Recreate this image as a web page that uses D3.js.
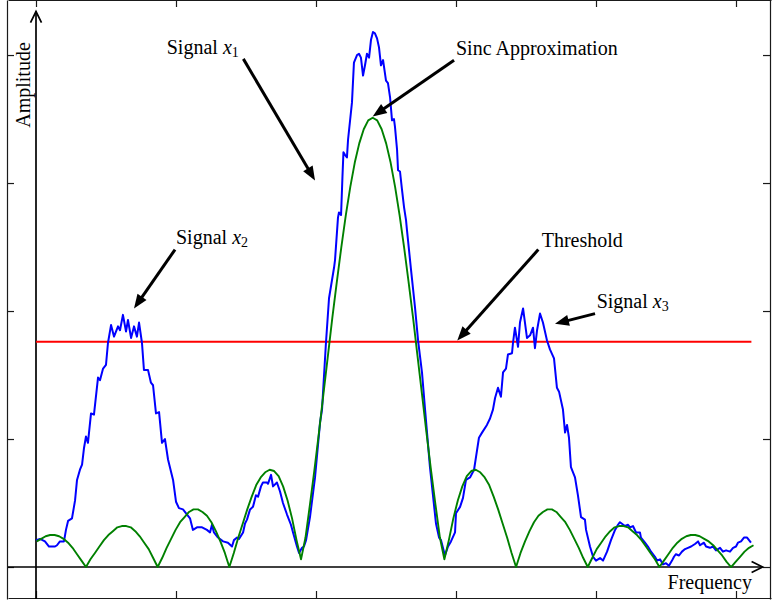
<!DOCTYPE html>
<html>
<head>
<meta charset="utf-8">
<script src="https://cdn.jsdelivr.net/npm/d3@7"></script>
<style>
  html, body { margin: 0; padding: 0; background: #fff; }
  svg { display: block; }
  text { font-family: "Liberation Serif", "Times New Roman", Times, serif; fill: #000; }
</style>
</head>
<body>
<svg id="chart" width="773" height="600"></svg>
<script>
// Measured spectrum: [frequency bin, amplitude]
const spectrum = [
  [0,0.21],[2.9,0.22],[6.4,0.20],[9.3,0.16],[11.4,0.16],[13.6,0.16],[15,0.17],[17.1,0.20],[20,0.20],[21.4,0.29],
  [22.9,0.36],[25.7,0.38],[27.9,0.52],[29.3,0.68],[31.4,0.76],[32.9,0.80],[34.3,0.93],[35.7,1.02],[37.1,0.97],[39.3,1.20],
  [41.4,1.19],[44.3,1.48],[45.7,1.46],[47.9,1.55],[50,1.58],[51.4,1.75],[53.6,1.89],[55.7,1.80],[58.6,1.88],[60,1.85],
  [62.1,1.97],[64.3,1.84],[65.7,1.93],[67.9,1.79],[70,1.88],[72.1,1.80],[73.6,1.91],[75.7,1.75],[77.1,1.54],[80,1.54],
  [82.1,1.44],[83.6,1.42],[85.7,1.20],[87.9,1.21],[90,0.97],[92.1,1.00],[94.3,0.84],[97.9,0.68],[100,0.51],[102.1,0.46],
  [105,0.45],[107.9,0.41],[110,0.38],[112.1,0.29],[115,0.31],[118.6,0.31],[122.1,0.29],[124.3,0.27],[125.7,0.33],[127.1,0.27],
  [130,0.23],[133.6,0.20],[137.1,0.19],[140,0.16],[141.4,0.21],[143.6,0.23],[145,0.22],[147.9,0.27],[149.3,0.34],[150.7,0.37],
  [152.9,0.45],[155,0.47],[157.1,0.56],[158.6,0.55],[160.7,0.63],[162.1,0.66],[165,0.66],[165.7,0.65],[167.9,0.72],[169.3,0.63],
  [172.1,0.66],[174.3,0.59],[176.4,0.50],[179.3,0.41],[182.1,0.33],[183.6,0.27],[186.4,0.16],[187.9,0.11],[190,0.15],[191.4,0.16],
  [192.9,0.21],[195.7,0.39],[199.3,0.70],[202.9,1.13],[204.3,1.23],[207.1,1.75],[209.3,2.10],[212.9,2.34],[213.6,2.40],[215.7,2.73],
  [216.4,2.77],[217.9,2.75],[218.9,3.05],[219.6,3.24],[220.7,3.22],[222.1,3.20],[222.9,3.34],[225.7,3.63],[227.1,3.94],[229.3,4.00],
  [230.7,4.01],[232.1,3.98],[233.6,3.84],[235,3.92],[236.4,4.01],[237.9,3.98],[239.3,4.12],[240.7,4.18],[242.1,4.17],[243.6,4.13],
  [245,4.06],[246.4,3.92],[247.9,3.96],[250,3.80],[251.4,3.78],[252.9,3.67],[254.3,3.49],[255.7,3.50],[256.4,3.44],[257.9,3.26],
  [258.6,3.10],[260,3.09],[261.4,2.95],[262.9,2.81],[264.3,2.71],[265,2.63],[267.9,2.32],[270.7,2.03],[272.9,1.77],[275.7,1.52],
  [277.9,1.23],[281.4,0.78],[285.7,0.34],[287.9,0.23],[289.3,0.21],[291.4,0.12],[292.1,0.09],[294.3,0.16],[296.4,0.20],[299.3,0.27],
  [300,0.42],[302.9,0.47],[305,0.54],[307.1,0.68],[310,0.70],[312.9,0.76],[314.3,0.86],[316.4,1.01],[318.6,1.05],[322.1,1.11],
  [324.3,1.16],[326.4,1.23],[327.9,1.32],[330,1.40],[332.1,1.33],[333.6,1.52],[335.7,1.55],[337.1,1.66],[340,1.67],[340.7,1.75],
  [342.1,1.87],[344.3,1.72],[345.7,1.91],[347.9,2.02],[350.7,1.79],[352.9,1.81],[355,1.87],[356.4,1.71],[357.9,1.85],[360,1.98],
  [362.1,1.91],[365,1.77],[367.1,1.70],[370,1.63],[372.1,1.40],[373.6,1.37],[376.4,1.23],[377.9,1.05],[379.3,1.11],[380.7,1.01],
  [382.1,0.78],[385,0.70],[387.1,0.56],[389.3,0.39],[392.1,0.37],[392.9,0.29],[395.7,0.16],[397.9,0.08],[400,0.05],[402.9,0.07],
  [405,0.05],[407.9,0.12],[410.7,0.21],[413.6,0.29],[415.7,0.33],[417.1,0.35],[420.7,0.32],[422.9,0.33],[424.3,0.31],[426.4,0.32],
  [428.6,0.27],[431.4,0.27],[432.1,0.23],[435,0.19],[437.1,0.16],[439.3,0.12],[442.1,0.08],[443.6,0.05],[445.7,0.06],[447.9,0.02],
  [450,0.03],[452.1,0.01],[454.3,0.05],[455.7,0.08],[457.1,0.10],[459.3,0.09],[461.4,0.12],[463.6,0.14],[465.7,0.15],[467.9,0.16],
  [470.7,0.18],[472.9,0.20],[474.3,0.17],[477.1,0.19],[478.6,0.16],[481.4,0.15],[483.6,0.16],[485.7,0.13],[488.6,0.15],[490.7,0.12],
  [492.9,0.13],[495.7,0.12],[497.9,0.15],[500,0.16],[501.4,0.19],[503.6,0.20],[505.7,0.23],[507.9,0.23],[509.3,0.21],[510.7,0.19]
];

// Sinc approximation, sampled on a uniform frequency grid
const sincStart = 0.5;
const sincStep = 3.2;
const sincAmp = [
  0.20,0.22,0.24,0.25,0.25,0.24,0.22,0.19,0.15,0.10,0.05,
  0,0.06,0.11,0.16,0.21,0.25,0.28,0.31,0.32,0.32,0.31,0.28,0.24,0.19,0.14,0.07,
  0,0.07,0.15,0.22,0.29,0.35,0.39,0.43,0.45,0.45,0.43,0.40,0.35,0.28,0.20,0.11,
  0,0.11,0.23,0.34,0.45,0.55,0.64,0.70,0.74,0.76,0.75,0.71,0.63,0.52,0.38,0.21,
  0.06,0.23,0.49,0.76,1.05,1.35,1.65,1.95,2.23,2.50,2.75,2.97,3.16,3.31,3.42,3.49,
  3.51,
  3.49,3.42,3.31,3.16,2.97,2.75,2.50,2.23,1.95,1.65,1.35,1.05,0.76,0.49,0.23,0.06,
  0.21,0.38,0.52,0.63,0.71,0.75,0.76,0.74,0.70,0.64,0.55,0.45,0.34,0.23,0.11,
  0,0.11,0.20,0.28,0.35,0.40,0.43,0.45,0.45,0.43,0.39,0.35,0.29,0.22,0.15,0.07,
  0,0.07,0.14,0.19,0.24,0.28,0.31,0.32,0.32,0.31,0.28,0.25,0.21,0.16,0.11,0.06,
  0,0.05,0.10,0.15,0.19,0.22,0.24,0.25,0.25,0.24,0.22,0.20,0.17,0.13,0.09,0.04,
  0,0.04,0.08,0.12,0.15,0.17
];

// Detection threshold
const threshold = 1.76;
const thresholdRange = [0, 511];

// Box tick marks (unlabelled)
const freqTicks = [0, 100, 200, 300, 400, 500];
const ampTicks = [0, 1, 2, 3, 4];

// Axis extents
const freqDomain = [-20, 525];
const ampDomain = [-0.25, 4.43];
const freqArrowEnd = 519;
const ampArrowEnd = 4.34;

// Callouts: text anchor, arrow tail and arrow tip, in data units
const callouts = [
  { text: "Signal ", sym: "x", sub: "1", at: [93.4, 4.01], tail: [148.1, 3.97], tip: [199.3, 3.02] },
  { text: "Sinc Approximation", at: [300, 4.0], tail: [298.6, 3.96], tip: [240.5, 3.52] },
  { text: "Signal ", sym: "x", sub: "2", at: [100, 2.52], tail: [99.3, 2.48], tip: [70, 2.02] },
  { text: "Threshold", at: [361.2, 2.50], tail: [358.8, 2.48], tip: [300.9, 1.77] },
  { text: "Signal ", sym: "x", sub: "3", at: [400.5, 2.02], tail: [399.3, 1.98], tip: [370.7, 1.90] }
];

const svg = d3.select("#chart");

const x = d3.scaleLinear().domain(freqDomain).range([8, 771]);
const y = d3.scaleLinear().domain(ampDomain).range([599, 0]);

// Outer box with inward ticks on all four sides
const boxColor = "#1a1a1a";
function styleBox(g) {
  g.selectAll("path, line").attr("stroke", boxColor).attr("stroke-width", 1.2);
  g.selectAll("text").remove();
}
svg.append("g").attr("transform", "translate(0,598)")
  .call(d3.axisBottom(x).tickValues(freqTicks).tickSizeInner(-7).tickSizeOuter(0).tickFormat(""))
  .call(styleBox);
svg.append("g").attr("transform", "translate(0,0)")
  .call(d3.axisTop(x).tickValues(freqTicks).tickSizeInner(-7).tickSizeOuter(0).tickFormat(""))
  .call(styleBox);
svg.append("g").attr("transform", "translate(7,0)")
  .call(d3.axisLeft(y).tickValues(ampTicks).tickSizeInner(-7).tickSizeOuter(0).tickFormat(""))
  .call(styleBox);
svg.append("g").attr("transform", "translate(770,0)")
  .call(d3.axisRight(y).tickValues(ampTicks).tickSizeInner(-7).tickSizeOuter(0).tickFormat(""))
  .call(styleBox);

// Coordinate axes with open arrowheads
const axesG = svg.append("g").attr("stroke", "#000").attr("stroke-width", 1.7).attr("fill", "none");
axesG.append("line")
  .attr("x1", x(0)).attr("x2", x(0))
  .attr("y1", y(ampDomain[0])).attr("y2", y(ampArrowEnd));
axesG.append("path")
  .attr("d", `M${x(0) - 5.5},${y(ampArrowEnd) + 11} L${x(0)},${y(ampArrowEnd)} L${x(0) + 5.5},${y(ampArrowEnd) + 11}`);
axesG.append("line")
  .attr("x1", x(freqDomain[0])).attr("x2", x(freqArrowEnd))
  .attr("y1", y(0)).attr("y2", y(0));
axesG.append("path")
  .attr("d", `M${x(freqArrowEnd) - 11},${y(0) - 5.5} L${x(freqArrowEnd)},${y(0)} L${x(freqArrowEnd) - 11},${y(0) + 5.5}`);

// Threshold
svg.append("line")
  .attr("x1", x(thresholdRange[0])).attr("x2", x(thresholdRange[1]))
  .attr("y1", y(threshold)).attr("y2", y(threshold))
  .attr("stroke", "#ff0000").attr("stroke-width", 2);

// Spectrum
const line = d3.line().x(d => x(d[0])).y(d => y(d[1]));
svg.append("path")
  .datum(spectrum)
  .attr("d", line)
  .attr("fill", "none")
  .attr("stroke", "#0000ff")
  .attr("stroke-width", 2)
  .attr("stroke-linejoin", "round");

// Sinc approximation
const sincPts = sincAmp.map((a, i) => [sincStart + i * sincStep, a]);
svg.append("path")
  .datum(sincPts)
  .attr("d", line)
  .attr("fill", "none")
  .attr("stroke", "#008000")
  .attr("stroke-width", 1.9)
  .attr("stroke-linejoin", "round");

// Axis titles
svg.append("text")
  .attr("transform", `translate(30,85) rotate(-90)`)
  .attr("text-anchor", "middle")
  .attr("font-size", 20)
  .text("Amplitude");
svg.append("text")
  .attr("x", 752).attr("y", 589)
  .attr("text-anchor", "end")
  .attr("font-size", 20)
  .text("Frequency");

// Callouts
const headLen = 14, headHalf = 5.5;
callouts.forEach(c => {
  const t = svg.append("text")
    .attr("x", x(c.at[0])).attr("y", y(c.at[1]))
    .attr("font-size", 20);
  t.append("tspan").text(c.text);
  if (c.sym) {
    t.append("tspan").attr("font-style", "italic").text(c.sym);
    t.append("tspan").attr("font-size", 14).attr("dy", 3).text(c.sub);
  }
  const x0 = x(c.tail[0]), y0 = y(c.tail[1]);
  const x1 = x(c.tip[0]), y1 = y(c.tip[1]);
  const dx = x1 - x0, dy = y1 - y0, len = Math.hypot(dx, dy);
  const ux = dx / len, uy = dy / len;
  const bx = x1 - ux * headLen, by = y1 - uy * headLen;
  svg.append("line")
    .attr("x1", x0).attr("y1", y0).attr("x2", bx + ux * 1).attr("y2", by + uy * 1)
    .attr("stroke", "#000").attr("stroke-width", 3);
  svg.append("path")
    .attr("d", `M${x1},${y1} L${bx - uy * headHalf},${by + ux * headHalf} L${bx + uy * headHalf},${by - ux * headHalf} Z`)
    .attr("fill", "#000");
});
</script>
</body>
</html>
